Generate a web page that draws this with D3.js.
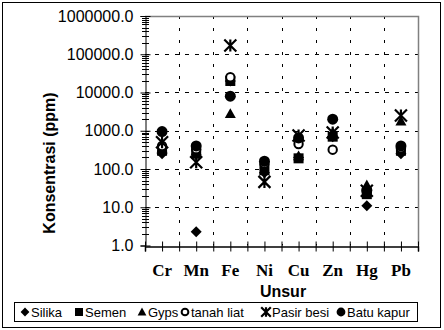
<!DOCTYPE html>
<html>
<head>
<meta charset="utf-8">
<script src="https://cdn.jsdelivr.net/npm/d3@7"></script>
<style>
  body { margin: 0; background: #fff; }
  svg { display: block; }
</style>
</head>
<body>
<svg id="chart" width="444" height="330"></svg>
<script>
// data
var unsur = ["Cr", "Mn", "Fe", "Ni", "Cu", "Zn", "Hg", "Pb"];
var yTicks = [1, 10, 100, 1000, 10000, 100000, 1000000];
var seriesNames = ["Silika", "Semen", "Gyps", "tanah liat", "Pasir besi", "Batu kapur"];
var silika    = [250, 2.3, 20000, 80, 200, 700, 11, 250];
var semen     = [300, 250, 20000, 100, 190, 700, 22, 300];
var gyps      = [350, 300, 2800, 90, 220, 900, 38, 1800];
var tanahLiat = [400, 330, 25000, 140, 450, 320, 25, 350];
var pasirBesi = [500, 150, 170000, 46, 750, 900, 27, 2500];
var batuKapur = [950, 400, 8000, 160, 650, 2000, 28, 400];

var allSeries = [silika, semen, gyps, tanahLiat, pasirBesi, batuKapur];

var svg = d3.select("#chart");

// outer frame
svg.append("rect")
    .attr("x", 2.5).attr("y", 2.5)
    .attr("width", 438).attr("height", 325)
    .attr("fill", "#fff")
    .attr("stroke", "#000");

var pLeft = 145, pRight = 418, pTop = 16, pBottom = 245.5;

var x = d3.scaleLinear().domain([0, 8]).range([pLeft, pRight]);
var y = d3.scaleLog().domain([1, 1000000]).range([pBottom, pTop]);

// grid - horizontal dashed
svg.append("g").selectAll("line")
    .data(yTicks.slice(1, -1))
    .enter().append("line")
    .attr("x1", pLeft).attr("x2", pRight)
    .attr("y1", function (d) { return Math.round(y(d)) + 0.5; })
    .attr("y2", function (d) { return Math.round(y(d)) + 0.5; })
    .attr("stroke", "#000")
    .attr("stroke-dasharray", "4,6");

// grid - vertical dashed at category boundaries
svg.append("g").selectAll("line")
    .data(d3.range(1, 8))
    .enter().append("line")
    .attr("x1", function (d) { return Math.round(x(d)) + 0.5; })
    .attr("x2", function (d) { return Math.round(x(d)) + 0.5; })
    .attr("y1", pTop).attr("y2", pBottom)
    .attr("stroke", "#000")
    .attr("stroke-dasharray", "3,9");

// plot area border (top and right)
svg.append("path")
    .attr("d", "M" + pLeft + "," + (pTop + 0.5) + "H" + (pRight + 0.5) + "V" + pBottom)
    .attr("fill", "none")
    .attr("stroke", "#808080")
    .attr("stroke-width", 1.5);

// y axis
var yAxis = svg.append("g")
    .attr("transform", "translate(" + (pLeft + 0.5) + ",0)")
    .call(d3.axisLeft(y).tickValues(yTicks).tickSize(5)
        .tickFormat(function (d) { return d3.format(".1f")(d); }));
yAxis.select(".domain").attr("stroke", "#000");
yAxis.selectAll(".tick line").attr("x1", -5).attr("x2", 5).attr("stroke", "#000");
yAxis.selectAll(".tick text")
    .attr("x", -12)
    .attr("font-family", "Liberation Sans, Arial, sans-serif")
    .attr("font-size", 16)
    .attr("fill", "#000");

// minor log ticks
var minor = [];
for (var p = 0; p < 6; p++) {
    for (var k = 2; k <= 9; k++) minor.push(k * Math.pow(10, p));
}
svg.append("g").selectAll("line")
    .data(minor)
    .enter().append("line")
    .attr("x1", pLeft - 3).attr("x2", pLeft + 4)
    .attr("y1", function (d) { return Math.round(y(d)) + 0.5; })
    .attr("y2", function (d) { return Math.round(y(d)) + 0.5; })
    .attr("stroke", "#000");

// x axis
var xAxis = svg.append("g")
    .attr("transform", "translate(0," + (Math.round(pBottom) + 0.5) + ")")
    .call(d3.axisBottom(x).tickValues(d3.range(0, 8.01, 0.5)).tickSize(5).tickFormat(""));
xAxis.select(".domain").attr("stroke", "#000").attr("stroke-width", 1.5);
xAxis.selectAll(".tick line").attr("y1", -5).attr("y2", 5).attr("stroke", "#000");

// category labels
svg.append("g").selectAll("text")
    .data(unsur)
    .enter().append("text")
    .attr("x", function (d, i) { return x(i + 0.5); })
    .attr("y", 276)
    .attr("text-anchor", "middle")
    .attr("font-family", "Liberation Serif, 'Times New Roman', serif")
    .attr("font-weight", "bold")
    .attr("font-size", 17)
    .text(function (d) { return d; });

// axis titles
svg.append("text")
    .attr("x", 283).attr("y", 297)
    .attr("text-anchor", "middle")
    .attr("font-family", "Liberation Sans, Arial, sans-serif")
    .attr("font-weight", "bold")
    .attr("font-size", 16)
    .text("Unsur");

svg.append("text")
    .attr("transform", "translate(55,163) rotate(-90)")
    .attr("text-anchor", "middle")
    .attr("font-family", "Liberation Sans, Arial, sans-serif")
    .attr("font-weight", "bold")
    .attr("font-size", 16)
    .text("Konsentrasi (ppm)");

// markers
function drawMarker(g, idx, cx, cy, s) {
    s = s || 1;
    if (idx == 0) {
        var d = 5.5 * s;
        g.append("path")
            .attr("d", "M" + cx + "," + (cy - d) + "L" + (cx + d) + "," + cy +
                "L" + cx + "," + (cy + d) + "L" + (cx - d) + "," + cy + "Z")
            .attr("fill", "#000");
    } else if (idx == 1) {
        g.append("rect").attr("x", cx - 5 * s).attr("y", cy - 5 * s)
            .attr("width", 10 * s).attr("height", 10 * s).attr("fill", "#000");
    } else if (idx == 2) {
        var t = 5.5 * s;
        g.append("path")
            .attr("d", "M" + cx + "," + (cy - t) + "L" + (cx + t) + "," + (cy + t * 0.8) +
                "L" + (cx - t) + "," + (cy + t * 0.8) + "Z")
            .attr("fill", "#000");
    } else if (idx == 3) {
        g.append("circle").attr("cx", cx).attr("cy", cy).attr("r", 4.2 * s)
            .attr("fill", "#fff").attr("stroke", "#000").attr("stroke-width", 2);
    } else if (idx == 4) {
        var r = 6 * s;
        g.append("path")
            .attr("d", "M" + (cx - r) + "," + (cy - r) + "L" + (cx + r) + "," + (cy + r) +
                "M" + (cx + r) + "," + (cy - r) + "L" + (cx - r) + "," + (cy + r) +
                "M" + cx + "," + (cy - r) + "L" + cx + "," + (cy + r))
            .attr("stroke", "#000").attr("stroke-width", 2.2).attr("fill", "none");
    } else {
        g.append("circle").attr("cx", cx).attr("cy", cy).attr("r", 5.5 * s).attr("fill", "#000");
    }
}

var marks = svg.append("g");
allSeries.forEach(function (vals, si) {
    vals.forEach(function (v, i) {
        if (v == null) return;
        drawMarker(marks, si, x(i + 0.5), y(v));
    });
});

// legend
var lg = svg.append("g");
lg.append("rect")
    .attr("x", 14.5).attr("y", 302.5)
    .attr("width", 403).attr("height", 19)
    .attr("fill", "#fff").attr("stroke", "#000");
var legendX = [25, 79, 142, 185, 266, 341];
seriesNames.forEach(function (name, si) {
    drawMarker(lg, si, legendX[si], 312, 0.8);
    lg.append("text")
        .attr("x", legendX[si] + 6)
        .attr("y", 317)
        .attr("font-family", "Liberation Sans, Arial, sans-serif")
        .attr("font-size", 13)
        .text(name);
});
</script>
</body>
</html>
